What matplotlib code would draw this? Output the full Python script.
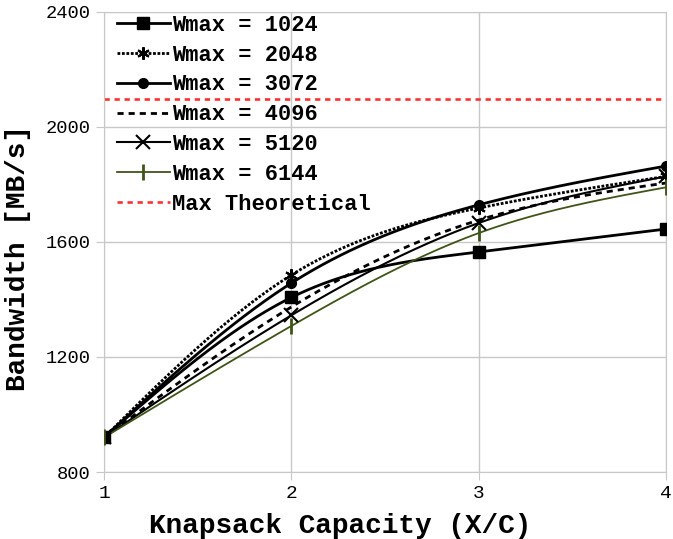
import numpy as np
import matplotlib.pyplot as plt

# data
capacity = [1, 2, 3, 4]
bw_1024 = [920, 1407, 1565, 1645]
bw_2048 = [920, 1485, 1718, 1828]
bw_3072 = [920, 1457, 1729, 1864]
bw_4096 = [920, 1374, 1676, 1805]
bw_5120 = [920, 1345, 1666, 1828]
bw_6144 = [920, 1308, 1631, 1790]
max_theoretical = 2096

series = [
    ('Wmax = 1024', bw_1024, dict(color='black', ls='-', lw=2, marker='s', ms=8)),
    ('Wmax = 2048', bw_2048, dict(color='black', ls=(0, (1, 0.6)), lw=2, marker=(6, 2, 0), ms=9, mew=1.5)),
    ('Wmax = 3072', bw_3072, dict(color='black', ls='-', lw=2, marker='o', ms=7)),
    ('Wmax = 4096', bw_4096, dict(color='black', ls=(0, (2.2, 1.8)), lw=2, marker=None)),
    ('Wmax = 5120', bw_5120, dict(color='black', ls='-', lw=1.5, marker='x', ms=10, mew=1.5)),
    ('Wmax = 6144', bw_6144, dict(color='#3f5418', ls='-', lw=1.3, marker='|', ms=11, mew=2)),
]

mono = 'Liberation Mono'


def natural_spline(x, y, xs):
    # natural cubic spline, like the smoothed lines of the original spreadsheet
    x = np.asarray(x, float)
    y = np.asarray(y, float)
    n = len(x)
    h = np.diff(x)
    A = np.zeros((n, n))
    b = np.zeros(n)
    A[0, 0] = A[-1, -1] = 1
    for i in range(1, n - 1):
        A[i, i - 1] = h[i - 1]
        A[i, i] = 2 * (h[i - 1] + h[i])
        A[i, i + 1] = h[i]
        b[i] = 6 * ((y[i + 1] - y[i]) / h[i] - (y[i] - y[i - 1]) / h[i - 1])
    m = np.linalg.solve(A, b)
    idx = np.clip(np.searchsorted(x, xs) - 1, 0, n - 2)
    x0, x1 = x[idx], x[idx + 1]
    hh = x1 - x0
    t0, t1 = x1 - xs, xs - x0
    return (m[idx] * t0 ** 3 / (6 * hh) + m[idx + 1] * t1 ** 3 / (6 * hh)
            + (y[idx] / hh - m[idx] * hh / 6) * t0
            + (y[idx + 1] / hh - m[idx + 1] * hh / 6) * t1)


fig = plt.figure(figsize=(6.73, 5.39), dpi=100)
ax = fig.add_axes([0.1545, 0.1243, 0.8355, 0.8537])

xs = np.linspace(1, 4, 300)
for label, vals, st in series:
    marker = st.pop('marker')
    ms = st.pop('ms', 8)
    mew = st.pop('mew', 1)
    ax.plot(xs, natural_spline(capacity, vals, xs), **st, zorder=3)
    ax.plot(capacity, vals, ls='none', marker=marker, ms=ms, mew=mew,
            color=st['color'], zorder=4)
    ax.plot([], [], label=label, marker=marker, ms=ms, mew=mew, **st)

ax.axhline(max_theoretical, color='#ff3030', ls=(0, (2, 1.8)), lw=1.9,
           label='Max Theoretical', zorder=2)

ax.set_xlim(1, 4)
ax.set_ylim(800, 2400)
ax.set_xticks([1, 2, 3, 4])
ax.set_yticks([800, 1200, 1600, 2000, 2400])
ax.grid(True, color='#c8c8c8', lw=1)
for s in ax.spines.values():
    s.set_color('#c8c8c8')
ax.tick_params(colors='#c8c8c8', length=6, labelcolor='black')
for t in ax.get_xticklabels():
    t.set_fontfamily(mono)
    t.set_fontsize(14)
for t in ax.get_yticklabels():
    t.set_fontfamily(mono)
    t.set_fontsize(13.5)

fig.text(0.505, 0.012, 'Knapsack Capacity (X/C)', fontfamily=mono,
         fontweight='bold', fontsize=20, ha='center', va='baseline')
fig.text(0.027, 0.521, 'Bandwidth [MB/s]', fontfamily=mono,
         fontweight='bold', fontsize=20, ha='center', va='center',
         rotation=90)

ax.legend(loc='upper left', bbox_to_anchor=(0.0, 1.022), frameon=False,
          prop={'family': mono, 'weight': 'bold', 'size': 15.8},
          handlelength=2.4, labelspacing=0.4, borderaxespad=0.2,
          handletextpad=0.1)

fig.savefig('out.png', dpi=100)
